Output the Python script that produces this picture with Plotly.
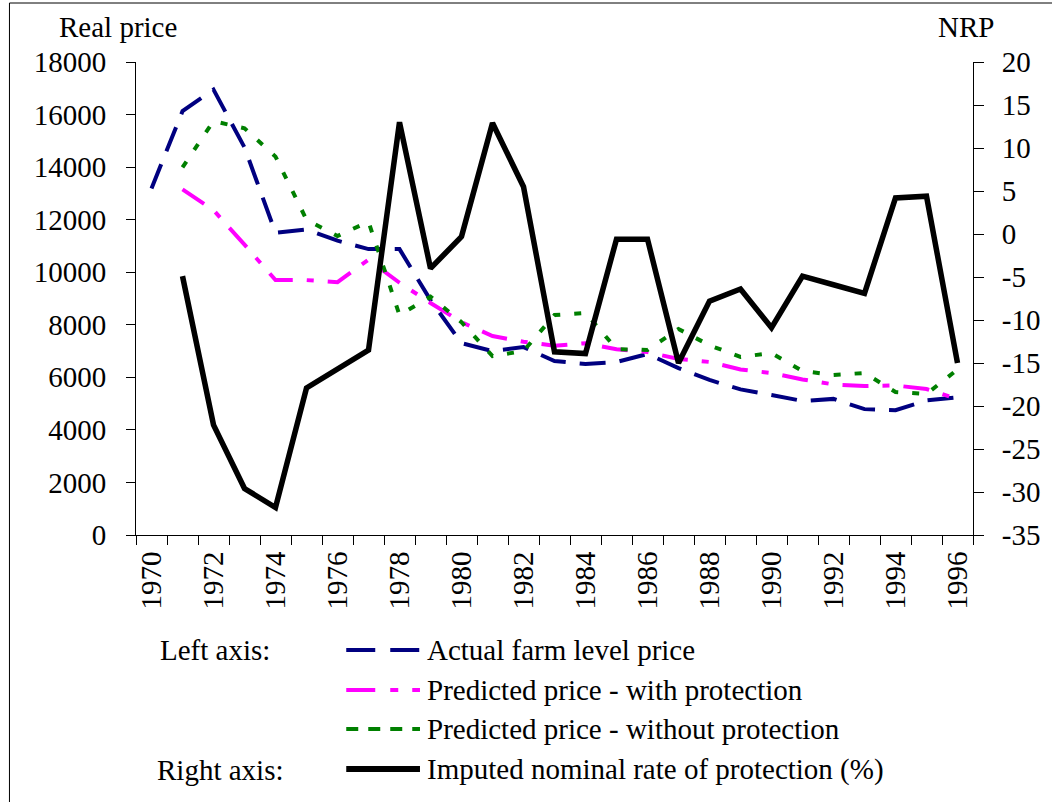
import plotly.graph_objects as go

years = list(range(1970, 1997))

actual_price = [13190, 16130, 16950, 14750, 11500, 11630, 11200, 10880, 10880, 8940,
                7300, 7000, 7150, 6620, 6510, 6580, 6890, 6350, 5900, 5540,
                5330, 5100, 5180, 4790, 4750, 5120, 5240]

pred_with = [None, 13150, 12360, 11050, 9700, 9700, 9620, 10480, 9600, 8830,
             8100, 7570, 7355, 7200, 7300, 7066, 6960, 6700, 6585, 6300,
             6165, 5920, 5730, 5670, 5690, 5555, 5175]

pred_without = [None, 13990, 15750, 15480, 14400, 12000, 11380, 11920, 8370, 9070,
                8100, 6810, 7000, 8370, 8450, 7077, 7040, 7840, 7220, 6775,
                6925, 6240, 6090, 6165, 5440, 5365, 6300]

nrp = [None, -4.9, -22.2, -29.6, -31.8, -17.9, -15.7, -13.5, 13.0, -4.0,
       -0.3, 12.9, 5.5, -13.7, -13.9, -0.6, -0.6, -15.0, -7.8, -6.4,
       -10.9, -4.9, -5.9, -6.9, 4.2, 4.4, -15.0]

year_labels = list(range(1970, 1997, 2))
left_ticks = list(range(0, 18001, 2000))
right_ticks = list(range(-35, 21, 5))

series_names = ["Actual farm level price", "Predicted price - with protection",
                "Predicted price - without protection",
                "Imputed nominal rate of protection (%)"]
colors = ["#000080", "#FF00FF", "#008000", "#000000"]
dashes = ["26px,14px", "26px,14px,7px,14px", "7px,14px", "solid"]
legend_dashes = ["29px,15px", "29px,15px,8px,14px", "12px,10px", "solid"]
widths = [4, 4, 4, 5.5]

FONT = "'Liberation Serif', 'Times New Roman', Times, serif"
FS = 29

W, H = 1052, 802
L, R, T, B = 136, 76, 62, 267
PW, PH = W - L - R, H - T - B


def px_x(x):
    return (x - L) / PW


def px_y(y):
    return (T + PH - y) / PH


fig = go.Figure()
fig.add_trace(go.Scatter(x=years, y=actual_price, mode="lines", name=series_names[0],
                         line=dict(color=colors[0], width=widths[0], dash=dashes[0]),
                         yaxis="y"))
fig.add_trace(go.Scatter(x=years, y=pred_with, mode="lines", name=series_names[1],
                         line=dict(color=colors[1], width=widths[1], dash=dashes[1]),
                         yaxis="y"))
fig.add_trace(go.Scatter(x=years, y=pred_without, mode="lines", name=series_names[2],
                         line=dict(color=colors[2], width=widths[2], dash=dashes[2]),
                         yaxis="y"))
fig.add_trace(go.Scatter(x=years, y=nrp, mode="lines", name=series_names[3],
                         line=dict(color=colors[3], width=widths[3]),
                         yaxis="y2"))

axis_font = dict(family=FONT, size=FS, color="black")

fig.update_layout(
    width=W, height=H,
    margin=dict(l=L, r=R, t=T, b=B, pad=0),
    paper_bgcolor="white", plot_bgcolor="white",
    showlegend=False,
    font=dict(family=FONT, size=FS, color="black"),
    xaxis=dict(
        range=[1969.5, 1996.5], showgrid=False, zeroline=False,
        showline=True, linecolor="black", linewidth=1,
        tickmode="array", tickvals=year_labels, ticktext=[str(y) for y in year_labels],
        ticks="outside", ticklen=0, tickangle=-90, tickfont=axis_font,
        ticklabelstandoff=4,
        minor=dict(tickmode="array", tickvals=[y - 0.5 for y in years] + [1996.5],
                   ticks="outside", ticklen=9, tickcolor="black", tickwidth=1,
                   showgrid=False),
    ),
    yaxis=dict(
        range=[0, 18000], tickmode="array", tickvals=left_ticks,
        ticktext=[str(v) for v in left_ticks],
        showgrid=False, zeroline=False, showline=True, linecolor="black", linewidth=1,
        ticks="outside", ticklen=9, tickcolor="black", tickfont=axis_font,
        ticklabelstandoff=14,
    ),
    yaxis2=dict(
        range=[-35, 20], tickmode="array", tickvals=right_ticks,
        ticktext=[str(v) for v in right_ticks],
        overlaying="y", side="right", anchor="x",
        showgrid=False, zeroline=False, showline=True, linecolor="black", linewidth=1,
        ticks="outside", ticklen=10, tickcolor="black", tickfont=axis_font,
        ticklabelstandoff=12,
    ),
    yaxis3=dict(
        range=[-35, 20], tickmode="array", tickvals=right_ticks,
        overlaying="y", side="right", anchor="x",
        showgrid=False, zeroline=False, showline=False,
        ticks="inside", ticklen=10, tickcolor="black", showticklabels=False,
    ),
)

annotations = [
    dict(text="Real price", x=px_x(118), y=px_y(27), xanchor="center", yanchor="middle"),
    dict(text="NRP", x=px_x(969), y=px_y(27), xanchor="center", yanchor="middle"),
    dict(text="Left axis:", x=px_x(158), y=px_y(650), xanchor="left", yanchor="middle"),
    dict(text="Right axis:", x=px_x(155), y=px_y(770), xanchor="left", yanchor="middle"),
]
row_y = [650, 690, 729, 769]
shapes = []
for name, c, d, wd, ry in zip(series_names, colors, legend_dashes, widths, row_y):
    annotations.append(dict(text=name, x=px_x(426), y=px_y(ry), xanchor="left",
                            yanchor="middle"))
    shapes.append(dict(type="line", xref="paper", yref="paper",
                       x0=px_x(347), x1=px_x(421), y0=px_y(ry), y1=px_y(ry),
                       line=dict(color=c, width=(6 if d == "solid" else wd), dash=d)))

for a in annotations:
    a.update(xref="paper", yref="paper", showarrow=False,
             font=dict(family=FONT, size=FS, color="black"))

# outer frame
shapes.append(dict(type="rect", xref="paper", yref="paper",
                   x0=px_x(9), x1=px_x(1070), y0=px_y(3), y1=px_y(820),
                   line=dict(color="black", width=1), fillcolor="rgba(0,0,0,0)"))

fig.update_layout(annotations=annotations, shapes=shapes)

fig.write_html("out.html", config={"displayModeBar": False},
               post_script="document.body.style.margin='0';document.body.style.overflow='hidden';")
